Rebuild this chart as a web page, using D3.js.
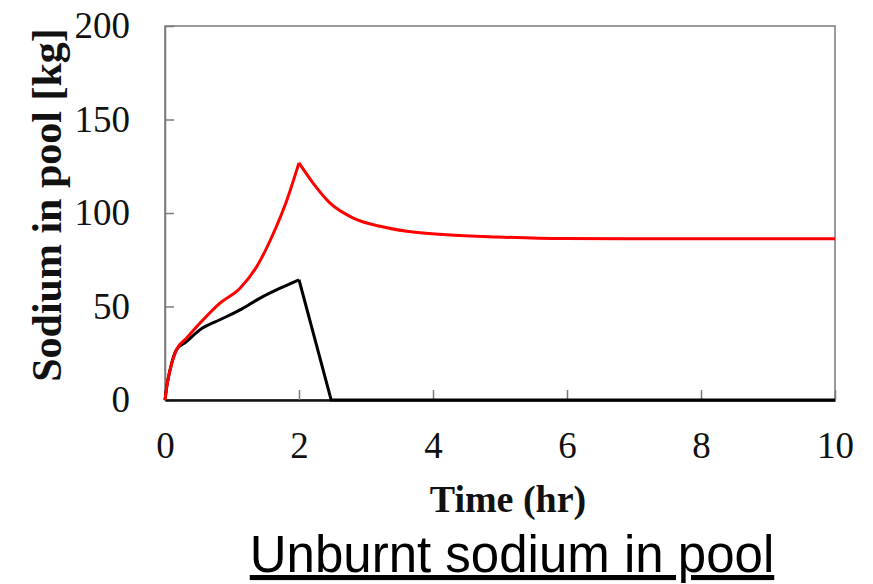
<!DOCTYPE html>
<html>
<head>
<meta charset="utf-8">
<script src="https://cdn.jsdelivr.net/npm/d3@7"></script>
<style>
  body { margin: 0; background: #fff; }
  svg { display: block; }
</style>
</head>
<body>
<div id="vizcont"></div>
<script>
// time (hr) and unburnt sodium (kg)
var redTime  = [0, 0.03, 0.075, 0.17, 0.32, 0.52, 0.82, 1.12, 1.37, 1.62, 1.82, 2.0, 2.21, 2.46, 2.81, 3.21, 3.61, 4.2, 4.95, 5.95, 7, 8, 9, 10];
var redVal   = [0, 8, 16, 26.8, 33, 41, 51.8, 59.8, 71.4, 89.3, 107, 126.8, 116, 105.4, 97.3, 92.9, 90.2, 88.4, 87.2, 86.3, 86.2, 86.2, 86.2, 86.2];
var blackTime = [0, 0.03, 0.075, 0.17, 0.32, 0.52, 0.82, 1.12, 1.42, 1.72, 2.0, 2.48, 4, 6, 8, 10];
var blackVal  = [0, 8, 16, 26.8, 31.2, 37.5, 42.9, 48.2, 54.5, 59.8, 64.3, 0, 0, 0, 0, 0];
var xTicks = [0, 2, 4, 6, 8, 10];
var yTicks = [0, 50, 100, 150, 200];

var W = 873, H = 584;
var margin = {top: 26, right: 38, bottom: 184, left: 165};
var width = W - margin.left - margin.right;   // 670
var height = H - margin.top - margin.bottom;  // 374

var svg = d3.select("#vizcont")
    .append("svg")
    .attr("width", W)
    .attr("height", H);

var g = svg.append("g")
    .attr("transform", "translate(" + margin.left + "," + margin.top + ")");

var x = d3.scaleLinear().domain([0, 10]).range([0, width]);
var y = d3.scaleLinear().domain([0, 200]).range([height, 0]);

// frame
g.append("rect")
    .attr("x", 0).attr("y", 0)
    .attr("width", width).attr("height", height)
    .attr("fill", "none")
    .attr("stroke", "#7a7a7a")
    .attr("stroke-width", 1.5);

// left axis, ticks pointing in
var yAxis = g.append("g")
    .call(d3.axisLeft(y).tickValues(yTicks).tickSize(-9).tickPadding(35).tickSizeOuter(0));
yAxis.select(".domain").attr("stroke", "#7a7a7a").attr("stroke-width", 1.5);
yAxis.selectAll(".tick line").attr("stroke", "#7a7a7a").attr("stroke-width", 1.5);
yAxis.selectAll(".tick text")
    .style("font-family", "'Liberation Serif', 'Times New Roman', serif")
    .style("font-size", "37px")
    .attr("fill", "#111");

// bottom axis, ticks pointing in
var xAxis = g.append("g")
    .attr("transform", "translate(0," + height + ")")
    .call(d3.axisBottom(x).tickValues(xTicks).tickSize(-10).tickPadding(32).tickSizeOuter(0));
xAxis.select(".domain").attr("stroke", "#111").attr("stroke-width", 2.5);
xAxis.selectAll(".tick line").attr("stroke", "#7a7a7a").attr("stroke-width", 1.5);
xAxis.selectAll(".tick text")
    .style("font-family", "'Liberation Serif', 'Times New Roman', serif")
    .style("font-size", "37px")
    .attr("fill", "#111");

var smooth = d3.line()
    .x(function(d) { return x(d[0]); })
    .y(function(d) { return y(d[1]); })
    .curve(d3.curveMonotoneX);
var straight = d3.line()
    .x(function(d) { return x(d[0]); })
    .y(function(d) { return y(d[1]); });

var blackData = blackTime.map(function(t, i) { return [t, blackVal[i]]; });
var redData = redTime.map(function(t, i) { return [t, redVal[i]]; });

// split each series at its peak so the cusp stays sharp
var bPeak = blackVal.indexOf(d3.max(blackVal));
var rPeak = redVal.indexOf(d3.max(redVal));

function drawPath(data, gen, colour) {
  g.append("path")
      .datum(data)
      .attr("d", gen)
      .attr("fill", "none")
      .attr("stroke", colour)
      .attr("stroke-width", 3)
      .attr("stroke-linejoin", "miter");
}

drawPath(blackData.slice(0, bPeak + 1), smooth, "#000");
drawPath(blackData.slice(bPeak), straight, "#000");
drawPath(redData.slice(0, rPeak + 1), smooth, "#ff0000");
drawPath(redData.slice(rPeak), smooth, "#ff0000");

// axis titles
svg.append("text")
    .attr("x", 508)
    .attr("y", 512)
    .attr("text-anchor", "middle")
    .style("font-family", "'Liberation Serif', 'Times New Roman', serif")
    .style("font-weight", "bold")
    .style("font-size", "38px")
    .attr("fill", "#111")
    .text("Time (hr)");

svg.append("text")
    .attr("transform", "translate(61,205) rotate(-90)")
    .attr("text-anchor", "middle")
    .style("font-family", "'Liberation Serif', 'Times New Roman', serif")
    .style("font-weight", "bold")
    .style("font-size", "42px")
    .attr("fill", "#111")
    .text("Sodium in pool [kg]");

// caption
svg.append("text")
    .attr("x", 512)
    .attr("y", 572)
    .attr("text-anchor", "middle")
    .style("font-family", "'Liberation Sans', Arial, sans-serif")
    .style("font-size", "51px")
    .style("text-decoration", "underline")
    .attr("fill", "#000")
    .text("Unburnt sodium in pool");
</script>
</body>
</html>
